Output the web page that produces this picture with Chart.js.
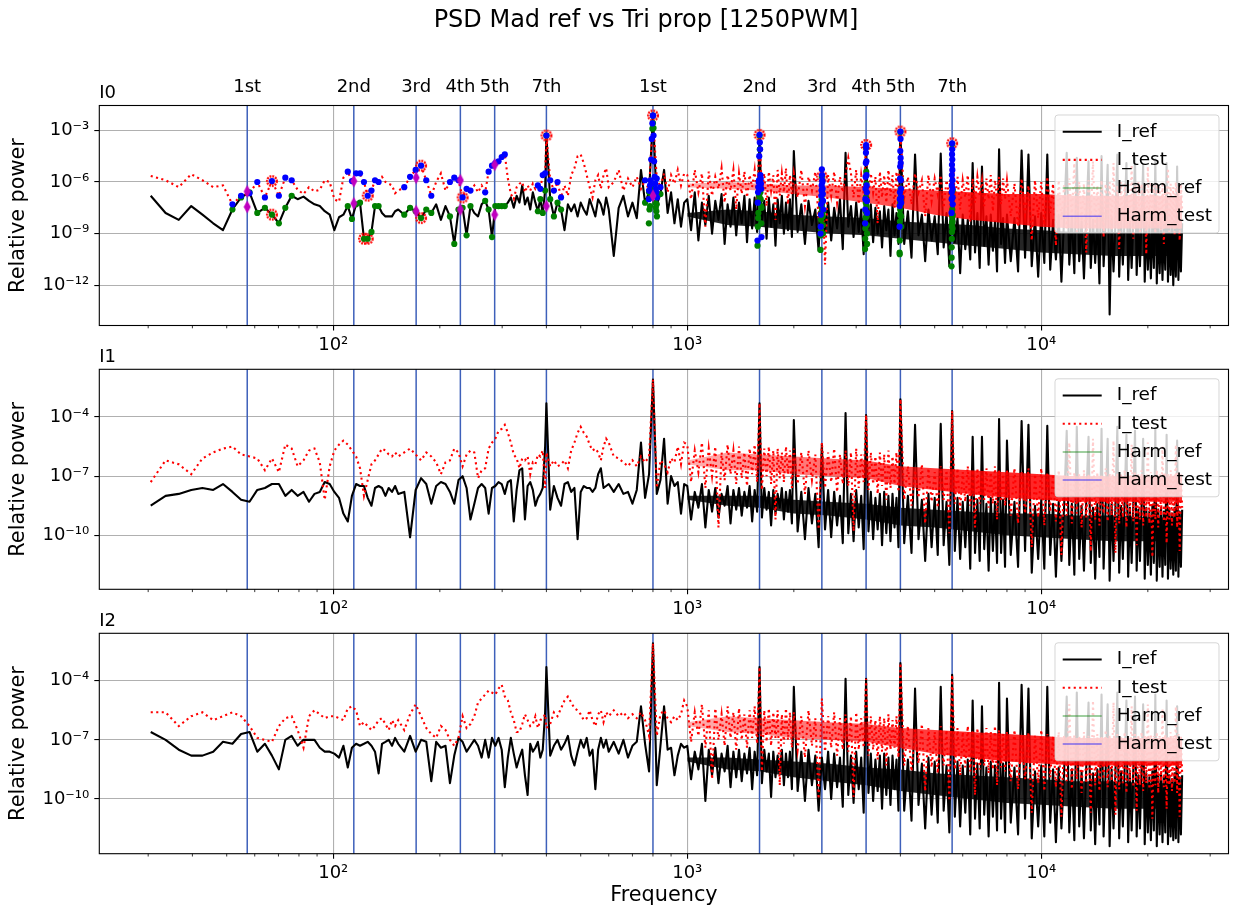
<!DOCTYPE html>
<html>
<head>
<meta charset="utf-8">
<title>PSD Mad ref vs Tri prop [1250PWM]</title>
<script src="https://cdn.jsdelivr.net/npm/chart.js@4.4.1/dist/chart.umd.min.js"></script>
<style>
  body { margin: 0; background: #fff; }
  #wrap { position: relative; width: 1238px; height: 911px; }
  #wrap canvas { position: absolute; left: 0; top: 0; }
</style>
</head>
<body>
<div id="wrap">
  <canvas id="c0" width="1238" height="911"></canvas>
  <canvas id="c1" width="1238" height="911"></canvas>
  <canvas id="c2" width="1238" height="911"></canvas>
</div>
<script>
// frequency bins (Hz) shared by all spectra
const freqs = [
  // 30-150 Hz, every bin
  30.5, 33.6, 36.6, 39.7, 42.7, 45.8, 48.8, 51.9, 54.9, 58.0,
  61.0, 64.1, 67.1, 70.2, 73.2, 76.3, 79.3, 82.4, 85.4, 88.5,
  91.6, 94.6, 97.7, 100.7, 103.8, 106.8, 109.9, 112.9, 116.0, 119.0,
  122.1, 125.1, 128.2, 131.2, 134.3, 137.3, 140.4, 143.4, 146.5, 149.5,
  // 150-400 Hz
  152.6, 158.7, 164.8, 170.9, 177.0, 183.1, 189.2, 195.3, 201.4, 207.5,
  213.6, 219.7, 225.8, 231.9, 238.0, 244.1, 250.3, 256.4, 262.5, 268.6,
  274.7, 280.8, 286.9, 293.0, 299.1, 305.2, 311.3, 317.4, 323.5, 329.6,
  335.7, 341.8, 347.9, 354.0, 360.1, 366.2, 372.3, 378.4, 384.5, 390.6,
  396.7,
  // 400-1000 Hz
  400, 410, 420, 430, 440, 450, 460, 470, 480, 490,
  500, 510, 520, 530, 540, 550, 560, 570, 580, 590,
  600, 620, 640, 660, 680, 700, 720, 740, 760, 780,
  800, 820, 840, 860, 880, 900, 920, 940, 960, 980,
  // 1-2 kHz
  1000, 1025, 1050, 1075, 1100, 1125, 1150, 1175, 1200, 1225,
  1250, 1275, 1300, 1325, 1350, 1375, 1400, 1425, 1450, 1475,
  1500, 1525, 1550, 1575, 1600, 1625, 1650, 1675, 1700, 1725,
  1750, 1775, 1800, 1825, 1850, 1875, 1900, 1925, 1950, 1975,
  // 2-4 kHz
  2000, 2050, 2100, 2150, 2200, 2250, 2300, 2350, 2400, 2450,
  2500, 2550, 2600, 2650, 2700, 2750, 2800, 2850, 2900, 2950,
  3000, 3050, 3100, 3150, 3200, 3250, 3300, 3350, 3400, 3450,
  3500, 3550, 3600, 3650, 3700, 3750, 3800, 3850, 3900, 3950,
  // 4-8 kHz
  4000, 4100, 4200, 4300, 4400, 4500, 4600, 4700, 4800, 4900,
  5000, 5100, 5200, 5300, 5400, 5500, 5600, 5700, 5800, 5900,
  6000, 6100, 6200, 6300, 6400, 6500, 6600, 6700, 6800, 6900,
  7000, 7100, 7200, 7300, 7400, 7500, 7600, 7700, 7800, 7900,
  // 8-25 kHz
  8000, 8200, 8400, 8600, 8800, 9000, 9200, 9400, 9600, 9800,
  10000, 10200, 10400, 10600, 10800, 11000, 11200, 11400, 11600, 11800,
  12000, 12200, 12400, 12600, 12800, 13000, 13200, 13400, 13600, 13800,
  14000, 14200, 14400, 14600, 14800, 15000, 15200, 15400, 15600, 15800,
  16000, 16200, 16400, 16600, 16800, 17000, 17200, 17400, 17600, 17800,
  18000, 18200, 18400, 18600, 18800, 19000, 19200, 19400, 19600, 19800,
  20000, 20200, 20400, 20600, 20800, 21000, 21200, 21400, 21600, 21800,
  22000, 22200, 22400, 22600, 22800, 23000, 23200, 23400, 23600, 23800,
  24000, 24200, 24400, 24600, 24800, 25000
];

// log10 of relative power, same bins as freqs
const ref0 = [
  -6.8, -7.8, -8.2, -7.4, -7.9, -8.4, -8.8, -7.6, -6.9, -6.6,
  -7.8, -7.5, -7.9, -8.4, -7.5, -6.8, -7.0, -6.85, -7.1, -7.3,
  -7.4, -7.7, -7.9, -8.8, -8.05, -7.9, -7.4, -8.15, -7.3, -7.2,
  -9.3, -9.3, -8.9, -7.4, -7.4, -7.8, -8.0, -8.0, -8.0, -7.7,
  -7.6, -7.9, -7.5, -7.7, -8.1, -7.6, -7.8, -7.3, -8.2, -7.4,
  -8.0, -9.6, -7.6, -7.5, -9.1, -7.4, -7.8, -8.0, -7.3, -7.1,
  -7.6, -9.2, -7.4, -7.4, -7.4, -7.4, -7.2, -6.9, -7.5, -6.8,
  -7.2, -6.2, -7.3, -6.9, -7.6, -6.6, -7.2, -7.7, -7.0, -7.8,
  -6.5,
  -3.3, -7.0, -8.0, -7.2, -7.6, -8.8, -7.3, -7.7, -7.3, -8.0,
  -7.2, -7.6, -7.9, -7.0, -7.5, -8.0, -7.0, -7.3, -7.9, -6.9,
  -7.6, -10.3, -7.5, -6.8, -8.0, -7.2, -8.1, -5.3, -7.2, -6.6,
  -2.14, -7.3, -6.7, -5.3, -7.8, -6.6, -8.4, -7.0, -8.6, -7.2,
  -7.0, -8.8, -6.6, -9.4, -7.2, -8.5, -6.8, -9.0, -7.1, -8.2,
  -6.7, -9.6, -7.3, -8.6, -6.9, -9.1, -7.2, -8.4, -6.8, -9.5,
  -7.0, -8.7, -6.9, -8.9, -3.3, -8.3, -7.1, -9.3, -6.9, -8.6,
  -7.3, -9.7, -7.0, -8.4, -6.8, -9.0, -7.2, -8.8, -7.0, -9.2,
  -4.2, -8.9, -7.3, -9.6, -7.1, -8.5, -7.6, -10.0, -5.7, -8.8,
  -7.2, -9.4, -7.5, -8.7, -7.0, -9.9, -4.3, -8.6, -7.4, -9.2,
  -7.2, -8.9, -7.6, -10.2, -3.85, -8.7, -7.3, -9.5, -7.5, -9.0,
  -7.7, -9.8, -7.4, -8.8, -7.6, -10.3, -7.3, -9.1, -7.8, -9.6,
  -3.07, -9.6, -7.7, -10.4, -4.4, -9.1, -7.9, -10.6, -7.6, -9.4,
  -8.0, -10.2, -4.35, -9.8, -7.8, -10.9, -3.8, -9.5, -8.1, -11.3,
  -7.9, -9.9, -8.2, -10.5, -4.9, -10.1, -7.8, -11.0, -5.1, -9.7,
  -8.0, -10.8, -7.9, -10.0, -8.3, -11.2, -4.1, -9.6, -8.1, -10.7,
  -7.9, -10.6, -8.1, -11.2, -4.17, -10.4, -4.4, -10.9, -8.0, -11.5,
  -7.8, -10.7, -4.4, -11.1, -8.2, -10.5, -7.9, -11.8, -8.1, -4.3,
  -10.8, -8.0, -11.3, -4.6, -10.6, -8.3, -11.6, -8.0, -4.8, -11.0,
  -8.2, -10.7, -8.1, -11.9, -4.5, -10.9, -8.3, -5.0, -13.7, -8.1,
  -11.2, -8.4, -4.4, -11.5, -8.2, -10.8, -8.0, -4.9, -11.7, -8.3,
  -11.0, -8.1, -4.6, -11.4, -8.4, -10.9, -8.2, -5.0, -11.8, -8.3,
  -11.1, -8.5, -11.6, -8.2, -11.0, -4.7, -11.9, -8.4, -11.3, -8.3,
  -11.7, -8.5, -11.1, -4.9, -11.8, -8.4, -11.4, -8.6, -12.0, -8.3,
  -11.5, -5.1, -11.7, -8.5, -11.2, -8.4
];
const test0 = [
  -5.65, -5.9, -6.3, -5.55, -5.9, -6.3, -6.2, -7.3, -6.8, -6.65,
  -6.0, -6.9, -5.95, -6.8, -5.75, -5.9, -6.45, -6.7, -6.3, -6.55,
  -6.45, -5.9, -6.0, -7.0, -7.15, -5.75, -5.4, -5.95, -5.5, -5.5,
  -6.0, -6.8, -6.5, -5.9, -6.0, -5.7, -6.0, -6.1, -6.2, -6.65,
  -6.5, -6.3, -5.7, -5.3, -5.05, -5.9, -6.8, -6.0, -5.5, -6.5,
  -6.0, -5.75, -5.9, -6.9, -6.4, -6.5, -6.2, -6.6, -6.2, -6.6,
  -5.4, -5.05, -4.9, -4.8, -4.55, -4.4, -5.8, -6.7, -7.0, -6.3,
  -6.1, -6.0, -6.6, -6.2, -6.5, -6.1, -6.4, -6.2, -6.4, -5.6,
  -5.5,
  -3.3, -5.9, -6.5, -6.0, -6.9, -6.2, -6.8, -5.6, -5.2, -4.5,
  -4.4, -4.9, -5.6, -6.3, -6.9, -5.9, -5.6, -6.4, -5.6, -5.2,
  -6.3, -6.0, -5.3, -6.5, -5.8, -6.3, -5.7, -6.4, -5.9, -6.5,
  -2.14, -5.8, -6.3, -5.5, -6.6, -5.6, -6.1, -5.3, -6.2, -5.5,
  -5.6, -7.0, -5.3, -6.6, -5.5, -8.6, -5.4, -6.8, -5.7, -6.4,
  -5.2, -7.2, -5.6, -6.5, -5.3, -7.6, -5.5, -6.7, -5.4, -6.9,
  -5.6, -6.3, -5.3, -7.1, -3.3, -6.6, -5.5, -7.4, -5.4, -6.5,
  -5.6, -8.2, -5.3, -6.8, -5.5, -6.6, -5.2, -7.3, -5.6, -6.7,
  -5.5, -6.9, -5.3, -7.4, -5.7, -6.5, -5.4, -8.1, -5.3, -10.8,
  -5.6, -6.8, -5.4, -7.2, -5.7, -6.6, -5.6, -4.6, -5.5, -6.9,
  -5.3, -7.3, -5.6, -6.7, -3.85, -7.1, -5.5, -6.6, -5.7, -8.4,
  -5.4, -6.9, -5.6, -7.2, -5.3, -6.8, -5.6, -7.5, -5.4, -6.7,
  -3.07, -6.9, -5.7, -7.3, -5.5, -6.6, -5.9, -8.0, -5.6, -7.1,
  -5.8, -6.7, -5.6, -7.5, -5.9, -6.8, -3.8, -7.0, -5.7, -7.6,
  -5.9, -6.9, -5.6, -8.3, -5.8, -7.2, -5.7, -6.8, -5.9, -7.4,
  -5.8, -7.0, -5.6, -7.7, -5.9, -6.9, -5.7, -7.3, -5.8, -7.0,
  -5.9, -8.0, -6.1, -8.6, -5.8, -7.9, -6.2, -9.4, -5.9, -8.1,
  -6.0, -8.5, -5.7, -7.8, -6.1, -9.7, -5.9, -8.2, -6.2, -8.7,
  -5.8, -8.0, -4.9, -8.9, -6.0, -8.3, -6.1, -10.1, -5.9, -8.1,
  -4.8, -8.6, -6.2, -8.4, -5.9, -9.2, -6.1, -8.2, -6.0, -8.8,
  -4.9, -8.5, -6.2, -9.9, -6.0, -8.3, -6.1, -8.7, -5.9, -8.4,
  -5.0, -9.3, -6.2, -8.5, -6.0, -8.9, -6.1, -8.2, -6.3, -10.2,
  -5.1, -8.6, -6.0, -8.4, -6.2, -9.0, -6.1, -8.5, -6.3, -8.8,
  -6.0, -9.6, -6.2, -8.4, -5.2, -8.9, -6.1, -8.6, -6.3, -9.1,
  -6.0, -8.5, -6.2, -9.4, -6.1, -7.6
];
const ref1 = [
  -8.5, -8.0, -7.9, -7.7, -7.6, -7.7, -7.4, -7.8, -8.2, -8.3,
  -7.7, -7.6, -7.4, -7.4, -8.0, -7.7, -8.0, -7.8, -8.3, -7.9,
  -7.8, -7.3, -7.4, -7.8, -8.1, -8.9, -9.3, -8.0, -7.4, -7.5,
  -7.5, -8.1, -8.5, -7.6, -7.5, -7.6, -8.0, -7.6, -7.8, -7.5,
  -7.9, -7.8, -10.1, -7.7, -7.1, -7.4, -8.4, -7.5, -7.3, -7.4,
  -7.8, -8.4, -7.2, -7.0, -7.6, -9.2, -8.4, -7.6, -7.4, -7.6,
  -8.9, -7.6, -7.5, -7.3, -7.4, -7.9, -7.3, -7.2, -9.3, -7.7,
  -6.7, -6.6, -9.2, -7.5, -7.3, -7.7, -8.5, -8.1, -7.9, -7.6,
  -5.5,
  -3.3, -8.7, -7.5, -8.1, -8.5, -7.4, -7.3, -7.8, -7.6, -10.2,
  -7.8, -7.5, -7.6, -7.6, -7.8, -7.6, -6.9, -6.6, -7.6, -7.5,
  -7.4, -7.8, -7.4, -7.9, -7.8, -8.4, -7.7, -5.3, -8.1, -6.9,
  -2.1, -7.9, -7.2, -5.1, -8.4, -7.0, -7.5, -7.3, -8.9, -7.4,
  -7.5, -9.2, -7.8, -8.6, -7.4, -9.6, -7.7, -8.8, -7.6, -9.1,
  -7.9, -8.5, -7.5, -9.4, -7.7, -8.7, -7.6, -9.0, -7.8, -8.6,
  -7.5, -9.3, -7.7, -8.8, -3.3, -9.1, -7.6, -8.7, -7.8, -9.5,
  -7.7, -8.9, -7.9, -8.6, -7.6, -9.2, -7.8, -8.8, -7.7, -9.4,
  -4.15, -9.8, -7.8, -10.2, -7.6, -9.4, -7.9, -10.6, -5.4, -9.7,
  -7.7, -10.1, -7.8, -9.5, -8.0, -10.4, -3.8, -9.9, -7.9, -10.3,
  -7.7, -9.6, -8.0, -10.7, -3.9, -9.8, -7.8, -10.2, -8.1, -9.7,
  -7.9, -10.5, -7.8, -9.9, -8.0, -10.3, -7.9, -9.6, -8.1, -10.6,
  -3.1, -10.4, -8.0, -10.9, -4.4, -10.2, -8.2, -11.3, -7.9, -10.6,
  -8.1, -11.0, -4.35, -10.5, -8.3, -11.5, -3.7, -10.8, -8.1, -11.2,
  -8.3, -10.6, -8.0, -11.7, -5.0, -10.9, -8.2, -11.3, -5.0, -10.7,
  -8.4, -11.8, -8.1, -10.8, -8.3, -11.4, -4.1, -10.9, -8.2, -11.6,
  -5.2, -11.0, -8.3, -11.6, -4.2, -10.8, -4.4, -11.9, -8.5, -11.2,
  -8.2, -11.7, -4.45, -11.0, -8.4, -12.1, -8.3, -11.3, -8.6, -4.7,
  -11.5, -8.4, -12.0, -4.5, -11.2, -8.5, -11.8, -8.3, -5.0, -11.4,
  -8.6, -12.2, -8.4, -11.1, -4.6, -11.7, -8.5, -5.1, -12.3, -8.4,
  -11.3, -8.6, -4.5, -11.9, -8.5, -11.2, -8.3, -4.9, -12.1, -8.6,
  -11.4, -8.4, -4.7, -11.8, -8.7, -11.3, -8.5, -5.1, -12.2, -8.6,
  -11.5, -8.8, -12.0, -8.5, -11.4, -4.6, -12.3, -8.7, -11.6, -8.6,
  -12.1, -8.8, -11.5, -4.9, -12.2, -8.7, -11.7, -8.9, -12.0, -8.6,
  -11.8, -5.2, -12.1, -8.8, -11.6, -8.7
];
const test1 = [
  -7.3, -6.2, -6.4, -6.9, -6.1, -5.8, -5.6, -5.5, -5.9, -6.0,
  -6.1, -6.7, -6.1, -6.8, -5.4, -5.6, -6.5, -6.2, -5.7, -5.6,
  -6.3, -8.2, -6.5, -5.7, -5.4, -5.2, -5.4, -5.7, -6.0, -6.6,
  -8.0, -7.2, -6.4, -6.2, -5.9, -5.6, -5.7, -5.9, -6.0, -5.8,
  -6.0, -5.8, -5.6, -5.9, -6.2, -5.8, -6.0, -6.3, -6.9, -6.3,
  -6.2, -5.6, -5.8, -6.5, -5.9, -5.7, -5.8, -7.1, -6.7, -6.6,
  -5.6, -5.3, -5.1, -4.7, -4.6, -4.4, -4.8, -5.3, -5.9, -6.1,
  -6.6, -6.1, -6.2, -6.0, -6.9, -6.3, -6.4, -5.9, -6.0, -5.7,
  -7.6,
  -5.8, -6.5, -6.2, -6.5, -6.4, -6.2, -6.6, -5.7, -5.3, -4.8,
  -4.5, -4.8, -5.0, -5.4, -5.7, -5.6, -5.8, -6.2, -5.5, -5.1,
  -5.3, -6.0, -6.1, -6.3, -6.5, -6.2, -6.5, -6.0, -6.3, -6.0,
  -2.1, -7.6, -6.2, -6.4, -6.8, -6.1, -6.3, -5.5, -6.4, -5.3,
  -5.4, -7.3, -5.7, -6.8, -5.3, -7.6, -5.6, -7.0, -5.5, -9.6,
  -5.8, -7.2, -5.4, -6.9, -5.7, -7.4, -5.5, -7.1, -5.8, -7.5,
  -5.6, -6.9, -5.4, -7.3, -3.3, -7.7, -5.6, -7.0, -5.5, -7.4,
  -5.7, -9.2, -5.6, -7.1, -5.8, -7.3, -5.5, -6.9, -5.7, -7.6,
  -5.6, -7.4, -5.8, -7.9, -5.7, -7.2, -5.9, -9.7, -5.3, -7.6,
  -5.8, -7.3, -5.6, -7.8, -5.9, -7.4, -5.7, -7.5, -5.8, -9.8,
  -5.6, -7.6, -5.9, -7.3, -3.9, -7.7, -5.8, -7.4, -6.0, -7.9,
  -5.8, -7.5, -5.9, -8.2, -5.7, -7.6, -6.0, -7.4, -5.8, -7.8,
  -3.1, -8.2, -6.5, -8.5, -6.7, -8.1, -6.4, -9.4, -6.6, -8.3,
  -6.8, -8.6, -6.5, -8.2, -6.7, -9.9, -3.7, -8.4, -6.6, -8.7,
  -6.8, -8.3, -6.5, -8.5, -6.7, -9.6, -6.6, -8.4, -6.9, -8.2,
  -6.6, -8.6, -6.8, -8.4, -6.5, -9.2, -6.7, -8.3, -6.9, -8.5,
  -6.7, -9.0, -6.6, -9.4, -6.8, -8.9, -6.6, -10.6, -6.9, -9.1,
  -6.6, -9.5, -6.8, -8.8, -6.9, -9.3, -6.7, -11.0, -6.9, -9.0,
  -5.3, -9.4, -6.8, -8.9, -6.9, -9.6, -6.7, -9.1, -6.9, -10.8,
  -5.1, -9.2, -6.8, -9.5, -6.9, -8.9, -6.6, -9.3, -6.9, -9.0,
  -5.2, -10.9, -6.8, -9.4, -6.9, -9.1, -6.7, -9.6, -6.9, -9.0,
  -5.4, -9.3, -6.8, -10.5, -6.9, -9.2, -6.7, -9.5, -6.9, -9.1,
  -5.3, -9.4, -6.8, -11.1, -6.9, -9.2, -6.7, -9.6, -6.9, -9.0,
  -5.5, -9.3, -6.8, -10.4, -6.9, -9.2, -6.7, -9.5, -6.9, -9.1,
  -5.4, -9.6, -6.8, -10.8, -6.9, -8.6
];
const ref2 = [
  -6.6, -7.0, -7.5, -7.8, -7.8, -7.6, -7.1, -7.2, -6.7, -6.6,
  -7.6, -7.2, -7.8, -8.5, -7.0, -6.8, -7.3, -7.0, -7.0, -7.0,
  -7.4, -7.6, -7.6, -7.7, -7.9, -7.3, -8.4, -7.4, -7.2, -7.3,
  -7.2, -7.1, -7.3, -7.6, -8.7, -7.2, -7.1, -7.0, -7.3, -6.9,
  -7.2, -7.6, -6.8, -7.6, -7.0, -7.1, -9.1, -7.1, -7.4, -7.3,
  -9.2, -7.8, -6.9, -7.1, -7.6, -7.3, -7.0, -7.3, -7.9, -7.0,
  -7.9, -6.9, -7.3, -6.9, -7.5, -9.4, -7.9, -6.9, -7.7, -8.4,
  -7.9, -7.5, -8.8, -9.8, -7.2, -7.6, -7.4, -7.1, -7.9, -7.5,
  -5.6,
  -3.3, -7.8, -7.3, -7.0, -7.5, -7.2, -6.8, -7.8, -8.3, -7.6,
  -7.0, -7.4, -6.9, -7.8, -7.5, -9.5, -7.5, -6.9, -7.4, -7.0,
  -7.6, -7.1, -7.7, -7.0, -7.9, -7.3, -7.1, -5.3, -7.2, -8.6,
  -2.1, -9.3, -7.3, -5.3, -7.5, -7.4, -8.8, -7.8, -7.2, -7.4,
  -7.3, -9.0, -7.6, -8.5, -7.2, -10.1, -7.5, -8.8, -7.4, -9.2,
  -7.7, -8.6, -7.3, -9.4, -7.6, -8.9, -7.5, -9.1, -7.7, -8.7,
  -7.4, -9.5, -7.6, -8.8, -3.3, -9.2, -7.5, -8.6, -7.7, -9.9,
  -7.6, -8.9, -7.8, -8.7, -7.5, -9.3, -7.7, -8.9, -7.6, -9.5,
  -4.3, -9.6, -7.6, -10.1, -7.5, -9.3, -7.8, -10.6, -7.9, -9.5,
  -7.6, -10.0, -7.7, -9.4, -7.9, -10.4, -3.9, -9.8, -7.8, -10.2,
  -7.6, -9.5, -7.9, -10.7, -3.9, -9.7, -7.7, -10.1, -8.0, -9.6,
  -7.8, -10.5, -7.7, -9.8, -7.9, -10.3, -7.8, -9.5, -8.0, -10.6,
  -3.1, -10.6, -8.0, -11.1, -4.4, -10.3, -8.2, -11.5, -7.9, -10.8,
  -8.1, -11.2, -4.3, -10.6, -8.3, -11.7, -3.7, -10.9, -8.1, -11.4,
  -8.3, -10.7, -8.0, -11.8, -5.0, -11.0, -8.2, -11.5, -5.3, -10.8,
  -8.4, -11.9, -8.1, -10.9, -8.3, -11.6, -4.1, -11.0, -8.2, -11.7,
  -4.9, -11.2, -8.4, -11.8, -4.2, -11.0, -4.4, -12.0, -8.6, -11.4,
  -8.3, -11.9, -4.3, -11.2, -8.5, -12.2, -8.4, -11.5, -8.7, -4.8,
  -11.7, -8.5, -12.1, -4.6, -11.4, -8.6, -12.0, -8.4, -5.1, -11.6,
  -8.7, -12.3, -8.5, -11.3, -4.7, -11.9, -8.6, -5.2, -12.4, -8.5,
  -11.5, -8.7, -4.6, -12.0, -8.6, -11.4, -8.4, -5.0, -12.2, -8.7,
  -11.6, -8.5, -4.8, -11.9, -8.8, -11.5, -8.6, -5.2, -12.3, -8.7,
  -11.7, -8.9, -12.1, -8.6, -11.6, -4.7, -12.4, -8.8, -11.8, -8.7,
  -12.2, -8.9, -11.7, -5.0, -12.3, -8.8, -11.9, -9.0, -12.1, -8.7,
  -12.0, -5.3, -12.2, -8.9, -11.8, -8.8
];
const test2 = [
  -5.6, -5.6, -6.3, -5.8, -5.6, -6.0, -5.8, -5.6, -5.8, -6.3,
  -6.9, -7.0, -7.1, -6.3, -5.9, -5.8, -6.5, -7.4, -5.8, -5.5,
  -5.7, -5.9, -5.8, -5.8, -5.9, -6.0, -5.4, -5.3, -5.5, -6.3,
  -6.1, -6.3, -6.5, -6.3, -6.0, -5.9, -6.2, -6.5, -6.0, -6.3,
  -6.0, -6.5, -5.7, -5.2, -5.8, -6.4, -6.7, -6.9, -6.3, -6.5,
  -7.0, -7.3, -6.9, -5.8, -6.4, -6.2, -5.8, -5.1, -4.9, -4.7,
  -4.5, -4.6, -4.7, -4.4, -4.2, -4.8, -5.0, -5.6, -6.0, -6.6,
  -6.6, -6.2, -5.7, -6.0, -6.3, -6.2, -5.8, -6.4, -6.0, -5.9,
  -5.7,
  -6.4, -6.2, -5.6, -5.8, -5.4, -5.0, -4.8, -5.1, -5.4, -5.5,
  -5.7, -6.0, -5.9, -5.5, -6.0, -6.3, -5.7, -5.5, -6.1, -5.6,
  -5.8, -5.5, -5.8, -5.6, -5.9, -5.7, -5.9, -5.6, -6.0, -6.8,
  -2.1, -6.8, -5.7, -5.5, -5.9, -6.1, -5.8, -6.0, -5.7, -5.0,
  -5.3, -7.1, -5.6, -6.8, -5.2, -7.4, -5.5, -9.0, -5.4, -7.0,
  -5.7, -7.3, -5.3, -6.9, -5.6, -7.5, -5.4, -7.0, -5.7, -7.4,
  -5.5, -6.9, -5.3, -7.2, -3.3, -8.6, -5.5, -7.1, -5.4, -7.3,
  -5.6, -6.9, -5.5, -9.3, -5.7, -7.2, -5.4, -7.0, -5.6, -7.4,
  -5.6, -7.5, -5.8, -7.9, -5.5, -7.3, -5.9, -10.0, -4.9, -7.6,
  -5.8, -7.4, -5.6, -7.8, -5.9, -7.5, -5.7, -7.6, -5.8, -9.9,
  -5.6, -7.5, -5.9, -7.4, -3.9, -7.8, -5.8, -7.5, -6.0, -8.0,
  -5.8, -7.6, -5.9, -8.3, -5.7, -7.5, -6.0, -7.4, -5.8, -7.9,
  -3.1, -8.3, -6.3, -8.6, -6.5, -8.2, -6.2, -9.6, -6.4, -8.4,
  -6.6, -8.7, -6.3, -8.3, -6.5, -10.1, -3.7, -8.5, -6.4, -8.8,
  -6.6, -8.4, -6.3, -8.6, -6.5, -9.8, -6.4, -8.5, -6.7, -8.3,
  -6.4, -8.7, -6.6, -8.5, -6.3, -9.3, -6.5, -8.4, -6.7, -8.6,
  -6.6, -9.1, -6.5, -9.5, -6.8, -9.0, -6.6, -10.7, -6.8, -9.2,
  -6.5, -9.6, -6.7, -8.9, -6.8, -9.4, -6.6, -10.9, -6.8, -9.1,
  -5.2, -9.5, -6.7, -9.0, -6.8, -9.7, -6.6, -9.2, -6.8, -10.7,
  -5.0, -9.3, -6.7, -9.6, -6.8, -9.0, -6.5, -9.4, -6.8, -9.1,
  -5.1, -10.8, -6.7, -9.5, -6.8, -9.2, -6.6, -9.7, -6.8, -9.1,
  -5.3, -9.4, -6.7, -10.6, -6.8, -9.3, -6.6, -9.6, -6.8, -9.2,
  -5.2, -9.5, -6.7, -11.0, -6.8, -9.3, -6.6, -9.7, -6.8, -9.1,
  -5.4, -9.4, -6.7, -10.5, -6.8, -9.3, -6.6, -9.6, -6.8, -9.2,
  -5.3, -9.7, -6.7, -10.9, -6.8, -8.7
];

// dense core of each spectrum above 1 kHz (top / bottom, log10 power)
const bandFreq = [1000, 1300, 1600, 2000, 2500, 3200, 4000, 5000, 6300, 8000, 10000, 12500, 16000, 20000, 25000];
const refHi0 = [-7.8, -7.6, -7.7, -7.9, -8.0, -8.1, -8.3, -8.4, -8.5, -8.7, -8.8, -8.9, -8.9, -9.0, -9.0];
const refLo0 = [-8.0, -8.5, -8.6, -8.8, -9.0, -9.1, -9.3, -9.5, -9.7, -9.9, -10.1, -10.2, -10.3, -10.3, -10.3];
const testHi0 = [-6.1, -6.0, -6.1, -6.2, -6.2, -6.3, -6.4, -6.5, -6.6, -6.7, -6.7, -6.8, -6.8, -6.8, -6.8];
const testLo0 = [-6.3, -6.4, -6.5, -6.7, -6.9, -7.2, -7.5, -7.9, -8.2, -8.4, -8.6, -8.7, -8.7, -8.7, -8.7];
const refHi1 = [-8.0, -8.0, -8.0, -8.2, -8.3, -8.4, -8.6, -8.7, -8.8, -8.9, -8.9, -9.0, -9.0, -9.1, -9.1];
const refLo1 = [-8.2, -8.5, -8.6, -8.9, -9.0, -9.2, -9.5, -9.6, -9.8, -10.0, -10.1, -10.2, -10.3, -10.3, -10.3];
const testHi1 = [-6.2, -5.8, -5.9, -6.0, -6.1, -6.2, -6.5, -6.6, -6.7, -6.8, -6.9, -7.0, -7.0, -7.0, -7.0];
const testLo1 = [-6.4, -6.7, -6.7, -6.9, -7.0, -7.1, -7.5, -7.7, -7.9, -8.1, -8.2, -8.3, -8.3, -8.3, -8.3];
const refHi2 = [-7.9, -7.9, -8.0, -8.1, -8.2, -8.4, -8.5, -8.7, -8.8, -8.9, -9.0, -9.1, -9.1, -9.2, -9.2];
const refLo2 = [-8.1, -8.5, -8.6, -8.9, -9.1, -9.3, -9.6, -9.8, -10.0, -10.2, -10.3, -10.4, -10.5, -10.5, -10.5];
const testHi2 = [-6.1, -5.8, -5.9, -6.0, -6.1, -6.2, -6.4, -6.5, -6.6, -6.7, -6.8, -6.9, -6.9, -6.9, -6.9];
const testLo2 = [-6.3, -6.6, -6.7, -6.9, -7.0, -7.1, -7.4, -7.7, -7.9, -8.1, -8.2, -8.3, -8.3, -8.3, -8.3];

// harmonic lines: 400 Hz family and 800 Hz family
const harmLow = [57.14, 114.29, 171.43, 228.57, 285.71, 400];
const harmHigh = [800, 1600, 2400, 3200, 4000, 5600];
const harmNames = ['1st', '2nd', '3rd', '4th', '5th', '7th'];

// I0 bins picked around the low harmonics (indices into freqs)
const harmIdx = [
  7, 8, 9, 10, 11, 12, 13, 14, 15,
  26, 27, 28, 29, 30, 31, 32, 33, 34,
  41, 42, 43, 44, 45, 46,
  50, 51, 52, 53, 54, 55,
  59, 60, 61, 62, 63, 64, 65,
  77, 78, 79, 80, 81, 82, 83, 84, 85,
  109, 110, 111, 112, 113
];
// I0 bins around the 800 Hz family (Hz, log10 power)
const colFreq = [
  779, 782, 785, 788, 791, 794, 797, 800, 803, 806, 809, 812, 815, 818, 821,
  1579, 1582, 1585, 1588, 1591, 1594, 1597, 1600, 1603, 1606, 1609, 1612, 1615, 1618, 1621,
  2379, 2382, 2385, 2388, 2391, 2394, 2397, 2400, 2403, 2406, 2409, 2412, 2415, 2418, 2421,
  3179, 3182, 3185, 3188, 3191, 3194, 3197, 3200, 3203, 3206, 3209, 3212, 3215, 3218, 3221,
  3979, 3982, 3985, 3988, 3991, 3994, 3997, 4000, 4003, 4006, 4009, 4012, 4015, 4018, 4021,
  5579, 5582, 5585, 5588, 5591, 5594, 5597, 5600, 5603, 5606, 5609, 5612, 5615, 5618, 5621
];
const colTest = [
  -7.0, -6.5, -6.2, -5.9, -4.7, -3.5, -2.6, -2.14, -3.3, -4.8, -5.7, -6.1, -6.4, -6.6, -6.9,
  -9.4, -7.2, -6.6, -6.3, -6.0, -5.9, -4.5, -3.26, -3.7, -4.1, -5.6, -5.8, -6.1, -6.4, -9.2,
  -9.0, -8.6, -7.9, -7.3, -6.8, -6.5, -6.2, -5.26, -5.6, -5.9, -6.0, -6.4, -6.7, -7.1, -7.6,
  -8.4, -7.6, -7.0, -6.4, -5.7, -4.9, -4.3, -3.85, -4.0, -4.8, -5.6, -6.2, -6.6, -7.1, -7.8,
  -8.6, -7.4, -7.0, -6.6, -5.8, -5.1, -4.2, -3.07, -3.5, -4.6, -4.9, -5.9, -6.4, -6.9, -7.2,
  -7.8, -7.0, -6.6, -6.2, -5.6, -5.0, -4.4, -3.75, -4.1, -4.7, -5.3, -5.9, -6.4, -6.9, -7.3
];
const colRef = [
  -8.4, -7.6, -7.4, -6.9, -6.6, -6.3, -2.9, -2.58, -2.87, -6.2, -6.8, -7.2, -7.5, -7.7, -8.0,
  -9.7, -8.6, -8.1, -7.8, -7.1, -6.8, -6.5, -3.3, -4.1, -6.3, -6.6, -7.0, -7.4, -8.4, -7.5,
  -9.95, -9.1, -8.8, -8.2, -7.8, -7.4, -7.0, -5.69, -6.5, -7.2, -7.6, -8.0, -8.5, -9.0, -7.7,
  -9.9, -9.3, -8.7, -8.1, -7.7, -7.2, -6.9, -4.0, -5.4, -6.1, -7.4, -8.0, -8.5, -9.0, -9.6,
  -10.1, -10.2, -9.4, -8.3, -7.9, -7.6, -7.2, -3.1, -5.8, -6.4, -6.9, -7.3, -7.0, -8.0, -8.6,
  -10.9, -10.4, -9.8, -9.3, -8.9, -8.6, -8.4, -3.8, -7.9, -7.6, -8.0, -8.3, -7.9, -8.7, -6.5
];
// detected peaks (red rings) and harmonic estimates (diamonds) in I0
const peakFreq = [67.1, 67.1, 122.1, 125.1, 125.1, 177.0, 177.0, 231.9, 400, 800, 1600, 2400, 3200, 4000, 5600];
const peakVal = [-5.95, -7.9, -9.3, -6.8, -9.3, -5.05, -8.1, -6.9, -3.3, -2.14, -3.26, -5.69, -3.85, -3.07, -3.75];
const diaFreq = [57.14, 57.14, 114.29, 114.29, 171.43, 171.43, 228.57, 228.57, 285.71, 285.71, 400, 800];
const diaVal = [-6.55, -7.45, -5.95, -7.25, -5.75, -7.7, -5.9, -7.6, -5.0, -7.9, -7.4, -6.8];

const xTicks = [1e2, 1e3, 1e4];

// ---------------------------------------------------------------------------

Chart.defaults.font.family = '"DejaVu Sans", sans-serif';
Chart.defaults.color = '#000';

const GRID = '#b0b0b0';
const HARM_LINE = 'rgb(62,96,186)';
const NONE = 'rgba(0,0,0,0)';
const SUP = {'-': '\u207b', '0': '\u2070', '1': '\u00b9', '2': '\u00b2', '3': '\u00b3',
  '4': '\u2074', '5': '\u2075', '6': '\u2076', '7': '\u2077', '8': '\u2078', '9': '\u2079'};

function powLabel(v) {
  const e = Math.round(Math.log10(v));
  return '10' + String(e).split('').map(c => SUP[c]).join('');
}

const pts = (fs, vs) => fs.map((f, i) => ({x: f, y: 10 ** vs[i]}));
const pick = (vs, idx) => idx.map(i => ({x: freqs[i], y: 10 ** vs[i]}));

function pointImage(w, h, draw) {
  const c = document.createElement('canvas');
  c.width = w; c.height = h;
  draw(c.getContext('2d'));
  return c;
}
const ringImg = pointImage(14, 14, g => {
  g.strokeStyle = '#ff0000';
  g.lineWidth = 2.4;
  g.setLineDash([1.8, 1.0]);
  g.beginPath(); g.arc(7, 7, 4.8, 0, Math.PI * 2); g.stroke();
});
const diamondImg = pointImage(8, 14, g => {
  g.fillStyle = '#bf00bf';
  g.beginPath(); g.moveTo(4, 0.5); g.lineTo(7.5, 7); g.lineTo(4, 13.5); g.lineTo(0.5, 7); g.closePath(); g.fill();
});

// red core fades in towards high frequencies, where the trace is densest
function redCore(context) {
  const chart = context.chart;
  const xs = chart.scales.x;
  if (!chart.chartArea || !xs) return 'rgba(255,0,0,0.6)';
  const g = chart.ctx.createLinearGradient(xs.getPixelForValue(1000), 0, xs.getPixelForValue(6300), 0);
  g.addColorStop(0, 'rgba(255,0,0,0.3)');
  g.addColorStop(1, 'rgba(255,0,0,0.85)');
  return g;
}

// pair of invisible edges with the area between them filled
function band(fs, hi, lo, color, order) {
  return [
    {data: pts(fs, hi), showLine: true, borderColor: NONE, pointRadius: 0, order},
    {data: pts(fs, lo), showLine: true, borderColor: NONE, pointRadius: 0, order,
      fill: '-1', backgroundColor: color}
  ];
}

function drawLegend(chart) {
  const {ctx, chartArea: a} = chart;
  const w = 164, h = 118;
  const x = a.right - 9.5 - w, y = a.top + 9.5;
  ctx.save();
  ctx.fillStyle = 'rgba(255,255,255,0.8)';
  ctx.strokeStyle = 'rgba(204,204,204,0.8)';
  ctx.lineWidth = 1;
  ctx.beginPath();
  ctx.roundRect(x, y, w, h, 3);
  ctx.fill();
  ctx.stroke();
  ctx.font = '18.5px "DejaVu Sans"';
  ctx.textBaseline = 'middle';
  ctx.textAlign = 'left';
  chart.data.datasets.filter(d => d.legendColor).forEach((d, i) => {
    const cy = y + 16.7 + 28.2 * i;
    ctx.strokeStyle = d.legendColor;
    ctx.lineWidth = d.legendWidth;
    ctx.setLineDash(d.borderDash || []);
    ctx.beginPath(); ctx.moveTo(x + 7.7, cy); ctx.lineTo(x + 46.7, cy); ctx.stroke();
    ctx.setLineDash([]);
    ctx.fillStyle = '#000';
    ctx.fillText(d.label, x + 61.7, cy);
  });
  ctx.restore();
}

// harmonic markers, frame, minor ticks, labels and legend
const decor = {
  id: 'decor',
  beforeDatasetDraw(chart, args) {
    // vertical harmonic lines go right under the I_ref trace
    if (chart.data.datasets[args.index].label !== 'I_ref') return;
    const {ctx, chartArea: a} = chart;
    const xs = chart.scales.x;
    ctx.save();
    ctx.strokeStyle = HARM_LINE;
    ctx.lineWidth = 1.5;
    harmLow.concat(harmHigh).forEach(f => {
      const px = xs.getPixelForValue(f);
      ctx.beginPath(); ctx.moveTo(px, a.top); ctx.lineTo(px, a.bottom); ctx.stroke();
    });
    ctx.restore();
  },
  afterDraw(chart, args, opts) {
    const {ctx, chartArea: a} = chart;
    const xs = chart.scales.x;
    ctx.save();
    ctx.strokeStyle = '#000';
    ctx.lineWidth = 1.1;
    ctx.strokeRect(a.left, a.top, a.width, a.height);
    ctx.lineWidth = 0.8;
    for (let d = 10; d <= 10000; d *= 10) {
      for (let m = 2; m < 10; m++) {
        const f = m * d;
        if (f <= xs.min || f >= xs.max) continue;
        const px = xs.getPixelForValue(f);
        ctx.beginPath(); ctx.moveTo(px, a.bottom); ctx.lineTo(px, a.bottom + 2.8); ctx.stroke();
      }
    }
    ctx.fillStyle = '#000';
    ctx.font = '18px "DejaVu Sans"';
    ctx.textAlign = 'left';
    ctx.textBaseline = 'alphabetic';
    ctx.fillText(opts.name, a.left, a.top - 7.2);
    if (opts.harmText) {
      ctx.textAlign = 'center';
      harmLow.concat(harmHigh).forEach((f, i) => {
        ctx.fillText(harmNames[i % harmNames.length], xs.getPixelForValue(f), a.top - 13.8);
      });
    }
    if (opts.suptitle) {
      ctx.font = '24px "DejaVu Sans"';
      ctx.textAlign = 'center';
      ctx.fillText(opts.suptitle, 646, 27);
    }
    drawLegend(chart);
    ctx.restore();
  }
};

const panels = [
  {canvas: 'c0', name: 'I0', ref: ref0, test: test0, yLo: -14.34, yHi: -1.556, yTicks: [-12, -9, -6, -3],
    refHi: refHi0, refLo: refLo0, testHi: testHi0, testLo: testLo0,
    top: 105.5, bottom: 325.5, axisH: 35, markers: true, suptitle: 'PSD Mad ref vs Tri prop [1250PWM]'},
  {canvas: 'c1', name: 'I1', ref: ref1, test: test1, yLo: -12.74, yHi: -1.58, yTicks: [-10, -7, -4],
    refHi: refHi1, refLo: refLo1, testHi: testHi1, testLo: testLo1,
    top: 369.3, bottom: 589.3, axisH: 35},
  {canvas: 'c2', name: 'I2', ref: ref2, test: test2, yLo: -12.78, yHi: -1.59, yTicks: [-10, -7, -4],
    refHi: refHi2, refLo: refLo2, testHi: testHi2, testLo: testLo2,
    top: 633.3, bottom: 853.7, axisH: 57.3, xTitle: 'Frequency'}
];

panels.forEach(p => {
  const datasets = [
    {label: 'I_ref', data: pts(freqs, p.ref), showLine: true, borderColor: '#000000', borderWidth: 2.1,
      borderJoinStyle: 'round', pointRadius: 0, order: 5, legendColor: '#000000', legendWidth: 2.1},
    {label: 'I_test', data: pts(freqs, p.test), showLine: true, borderColor: '#ff0000', borderWidth: 2.1,
      borderDash: [2.1, 3.4], pointRadius: 0, order: 4, legendColor: '#ff0000', legendWidth: 2.1},
    {label: 'Harm_ref', data: p.markers ? pick(p.ref, harmIdx).concat(pts(colFreq, colRef)) : [],
      pointRadius: 3.1, backgroundColor: '#008000', borderWidth: 0, order: 2,
      legendColor: 'rgba(0,128,0,0.5)', legendWidth: 1.5},
    {label: 'Harm_test', data: p.markers ? pick(p.test, harmIdx).concat(pts(colFreq, colTest)) : [],
      pointRadius: 3.1, backgroundColor: '#0000ff', borderWidth: 0, order: 1,
      legendColor: 'rgba(0,0,255,0.5)', legendWidth: 1.5},
    ...band(bandFreq, p.refHi, p.refLo, 'rgba(0,0,0,0.85)', 6),
    ...band(bandFreq, p.testHi, p.testLo, redCore, 4.5)
  ];
  if (p.markers) {
    datasets.push({label: 'peaks', data: pts(peakFreq, peakVal), pointStyle: ringImg, pointRadius: 5, order: 3});
    datasets.push({label: 'harmonics', data: pts(diaFreq, diaVal), pointStyle: diamondImg, pointRadius: 5, order: 0});
  }

  new Chart(document.getElementById(p.canvas), {
    type: 'scatter',
    data: {datasets},
    plugins: [decor],
    options: {
      responsive: false,
      animation: false,
      devicePixelRatio: 1,
      events: [],
      layout: {
        autoPadding: false,
        padding: {left: 0, right: 1238 - 1228.5, top: p.top, bottom: 911 - p.bottom - p.axisH}
      },
      plugins: {
        legend: {display: false},
        tooltip: {enabled: false},
        filler: {propagate: false},
        decor: {name: p.name, harmText: !!p.markers, suptitle: p.suptitle}
      },
      scales: {
        x: {
          type: 'logarithmic',
          min: 21.83,
          max: 33800,
          afterFit: s => { s.height = p.axisH; },
          afterBuildTicks: s => { s.ticks = xTicks.map(v => ({value: v})); },
          ticks: {callback: powLabel, font: {size: 18}, padding: 4, maxRotation: 0, autoSkip: false},
          grid: {color: GRID, lineWidth: 1.1, tickColor: '#000', tickLength: 5, tickWidth: 1.1},
          border: {display: false},
          title: {display: !!p.xTitle, text: p.xTitle || '', font: {size: 20.8}, padding: {top: 0, bottom: 2.5}}
        },
        y: {
          type: 'logarithmic',
          min: 10 ** p.yLo,
          max: 10 ** p.yHi,
          afterFit: s => { s.width = 99.3; },
          afterBuildTicks: s => { s.ticks = p.yTicks.map(e => ({value: 10 ** e})); },
          ticks: {callback: powLabel, font: {size: 18}, padding: 5, autoSkip: false},
          grid: {color: GRID, lineWidth: 1.1, tickColor: '#000', tickLength: 5, tickWidth: 1.1},
          border: {display: false},
          title: {display: true, text: 'Relative power', font: {size: 20.8}, padding: {top: 6.5, bottom: 0}}
        }
      }
    }
  });
});
</script>
</body>
</html>
